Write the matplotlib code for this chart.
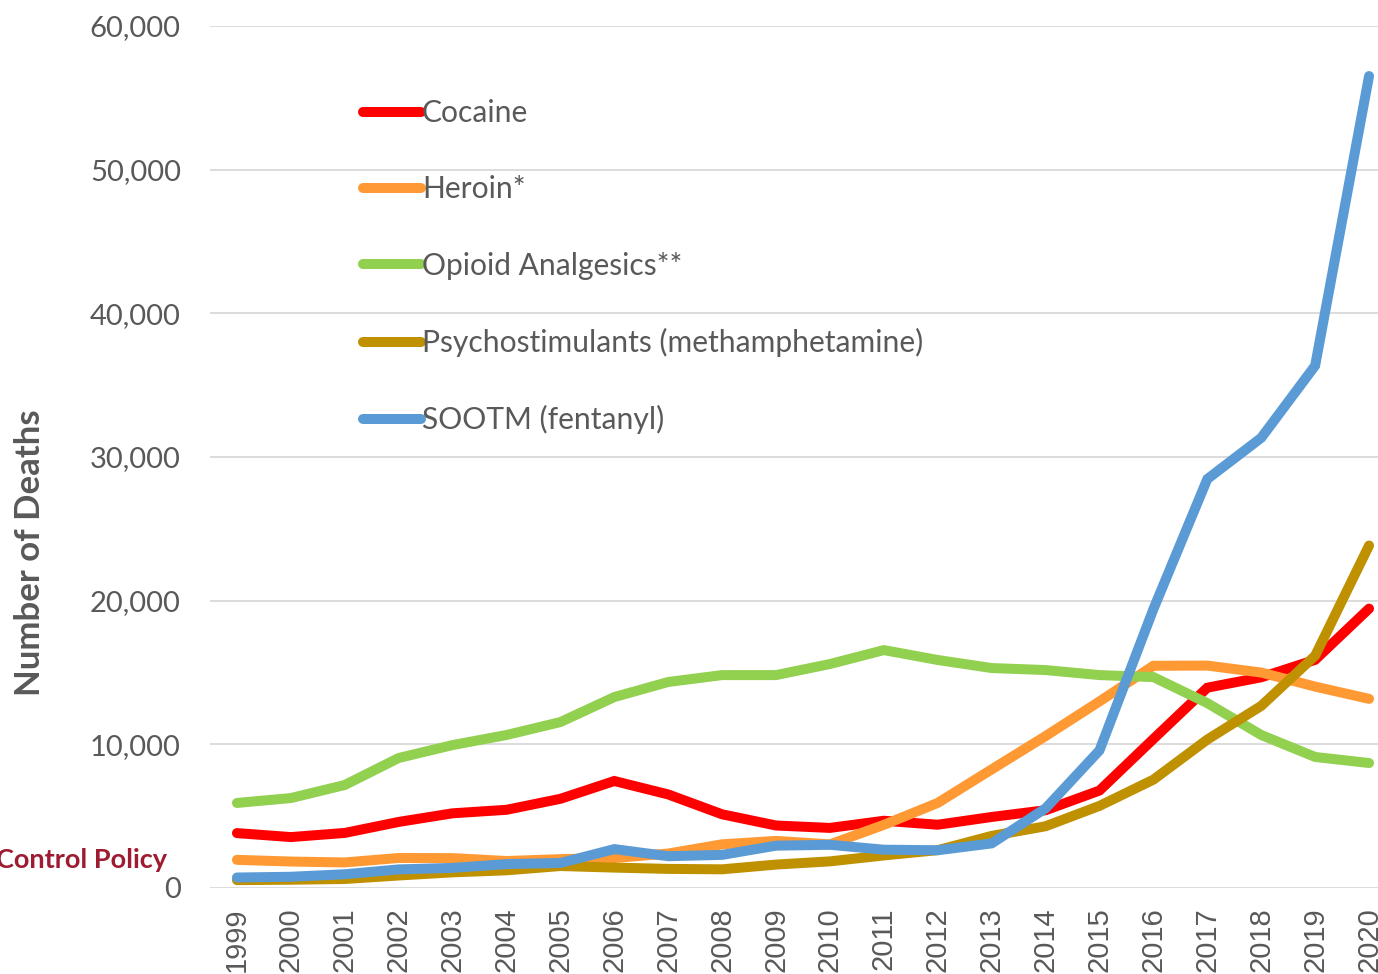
import matplotlib.pyplot as plt
import numpy as np

years = [str(y) for y in range(1999, 2021)]

cocaine = [3822, 3544, 3833, 4599, 5199, 5443, 6208, 7448, 6512, 5129, 4350,
           4183, 4681, 4404, 4944, 5415, 6784, 10375, 13942, 14666, 15883, 19447]
heroin = [1960, 1842, 1779, 2089, 2080, 1878, 2009, 2088, 2399, 3041, 3278,
          3036, 4397, 5925, 8257, 10574, 12989, 15469, 15482, 14996, 14019, 13165]
opioid_analgesics = [5920, 6260, 7170, 9050, 9950, 10650, 11550, 13290, 14340, 14820, 14820,
                     15590, 16560, 15870, 15310, 15170, 14820, 14680, 12870, 10650, 9120, 8700]
psychostimulants = [547, 578, 627, 870, 1090, 1230, 1530, 1420, 1330, 1300, 1630,
                    1854, 2266, 2635, 3627, 4298, 5716, 7542, 10333, 12676, 16167, 23837]
sootm = [730, 782, 957, 1295, 1400, 1664, 1742, 2707, 2213, 2306, 2946,
         3007, 2666, 2628, 3105, 5544, 9580, 19413, 28466, 31335, 36359, 56516]

series = [
    ("Cocaine", cocaine, "#FF0000"),
    ("Heroin*", heroin, "#FF9933"),
    ("Opioid Analgesics**", opioid_analgesics, "#92D050"),
    ("Psychostimulants (methamphetamine)", psychostimulants, "#BF9000"),
    ("SOOTM (fentanyl)", sootm, "#5B9BD5"),
]

W, H = 1378, 974
fig = plt.figure(figsize=(W / 100, H / 100), dpi=100)
ax = fig.add_axes([210 / W, (H - 888) / H, 1186 / W, (888 - 26) / H])

x = np.arange(len(years))
for name, vals, color in series:
    ax.plot(x, vals, color=color, lw=7.2, label=name,
            solid_capstyle="round", solid_joinstyle="miter", zorder=3)

ax.set_xlim(-0.5, len(years) - 0.5)
ax.set_ylim(0, 60000)
ax.set_yticks(np.arange(0, 60001, 10000))
ax.set_yticklabels([f"{v:,}" for v in range(0, 60001, 10000)],
                   fontsize=21, color="#595959", family="Lato")
ax.set_xticks(x)
ax.set_xticklabels(years, rotation=90, fontsize=21, color="#595959",
                   family="Liberation Sans", va="top")
ax.tick_params(axis="y", length=0, pad=21)
ax.tick_params(axis="x", length=0, pad=14)
ax.grid(axis="y", color="#D9D9D9", lw=1.3, zorder=0)
for s in ax.spines.values():
    s.set_visible(False)

leg = ax.legend(loc="upper left", bbox_to_anchor=(363 / W, 1 - 99 / H),
                bbox_transform=fig.transFigure, frameon=False,
                prop={"family": "Lato", "size": 21.6}, handlelength=1.93,
                handletextpad=0.03, labelspacing=1.61, borderpad=0,
                borderaxespad=0)
for t in leg.get_texts():
    t.set_color("#595959")

fig.text(30 / W, 1 - 553 / H, "Number of Deaths", rotation=90, ha="center",
         va="center", fontsize=25, fontweight="bold", color="#595959",
         family="Lato")
fig.text(167 / W, 1 - 868 / H, "Control Policy", ha="right", va="baseline",
         fontsize=19.5, fontweight="bold", color="#9E1B32", family="Lato")

fig.savefig("out.png", dpi=100)
